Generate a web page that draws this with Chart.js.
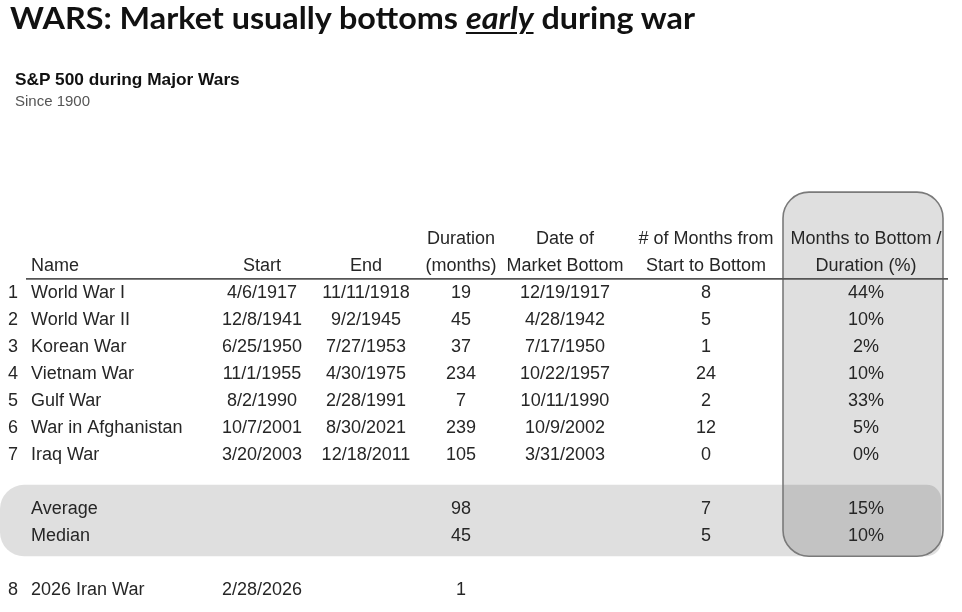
<!DOCTYPE html>
<html>
<head>
<meta charset="utf-8">
<script src="https://cdn.jsdelivr.net/npm/chart.js@4.4.1/dist/chart.umd.min.js"></script>
<style>
  html, body { margin: 0; padding: 0; background: #fff; }
  body { width: 962px; height: 612px; position: relative; overflow: hidden; }
  canvas { position: absolute; left: 0; top: 0; }
  .title { position: absolute; left: 10px; top: -3px; font-family: Lato, "Open Sans", sans-serif; font-weight: 700;
           font-size: 31px; line-height: 40px; color: #111; white-space: nowrap; transform-origin: 0 0; }
  .title u { text-decoration-thickness: 2px; text-underline-offset: 3px; }
  .sub { position: absolute; left: 15px; top: 69px; font-family: "Liberation Sans", Arial, sans-serif; font-weight: 700;
         font-size: 17.3px; line-height: 20px; color: #111; white-space: nowrap; }
  .since { position: absolute; left: 15px; top: 92px; font-family: "Liberation Sans", Arial, sans-serif;
           font-size: 15px; line-height: 18px; color: #555; white-space: nowrap; }
</style>
</head>
<body>
<canvas id="chart" width="962" height="612"></canvas>
<div class="title" id="title">WARS: Market usually bottoms <u><i>early</i></u> during war</div>
<div class="sub">S&amp;P 500 during Major Wars</div>
<div class="since">Since 1900</div>
<script>
// table values
const headerTop = ['', '', '', '', 'Duration', 'Date of', '# of Months from', 'Months to Bottom /']
const headerBottom = ['', 'Name', 'Start', 'End', '(months)', 'Market Bottom', 'Start to Bottom', 'Duration (%)']

const names = ['World War I', 'World War II', 'Korean War', 'Vietnam War', 'Gulf War', 'War in Afghanistan', 'Iraq War']
const starts = ['4/6/1917', '12/8/1941', '6/25/1950', '11/1/1955', '8/2/1990', '10/7/2001', '3/20/2003']
const ends = ['11/11/1918', '9/2/1945', '7/27/1953', '4/30/1975', '2/28/1991', '8/30/2021', '12/18/2011']
const durations = [19, 45, 37, 234, 7, 239, 105]
const bottoms = ['12/19/1917', '4/28/1942', '7/17/1950', '10/22/1957', '10/11/1990', '10/9/2002', '3/31/2003']
const monthsToBottom = [8, 5, 1, 24, 2, 12, 0]
const pctToBottom = [44, 10, 2, 10, 33, 5, 0]

const summaryLabels = ['Average', 'Median']
const summaryDuration = [98, 45]
const summaryMonths = [7, 5]
const summaryPct = [15, 10]

const currentName = '2026 Iran War'
const currentStart = '2/28/2026'
const currentDuration = 1

// layout: row slots and column anchors (px along the x scale)
const ROW_HEAD = 0, ROW_FIRST = 2, ROW_AVG = 10, ROW_CUR = 13
const colX = [13, 31, 262, 366, 461, 565, 706, 866]
const colAlign = ['center', 'left', 'center', 'center', 'center', 'center', 'center', 'center']

const pct = v => v + '%'

// one list of texts per column, with the row each sits in
function columnCells(c) {
  const cells = []
  if (headerTop[c]) cells.push([ROW_HEAD, headerTop[c]])
  if (headerBottom[c]) cells.push([ROW_HEAD + 1, headerBottom[c]])
  const body = [
    names.map((_, i) => String(i + 1)), names, starts, ends,
    durations, bottoms, monthsToBottom, pctToBottom.map(pct)
  ][c]
  body.forEach((v, i) => cells.push([ROW_FIRST + i, String(v)]))
  const summary = [null, summaryLabels, null, null, summaryDuration, null, summaryMonths, summaryPct.map(pct)][c]
  if (summary) summary.forEach((v, i) => cells.push([ROW_AVG + i, String(v)]))
  const current = [String(names.length + 1), currentName, currentStart, null, currentDuration, null, null, null][c]
  if (current !== null) cells.push([ROW_CUR, String(current)])
  return cells
}

const datasets = colX.map((x, c) => {
  const cells = columnCells(c)
  return {
    label: headerBottom[c] || 'No.',
    data: cells.map(([row]) => ({ x, y: row })),
    texts: cells.map(([, t]) => t),
    align: colAlign[c],
    pointRadius: 0,
    showLine: false
  }
})

function roundBox(ctx, x0, y0, x1, y1, r) {
  ctx.beginPath()
  ctx.roundRect(x0, y0, x1 - x0, y1 - y0, r)
}

const tablePlugin = {
  id: 'warTable',
  beforeDatasetsDraw(chart) {
    const { ctx, scales: { x, y } } = chart
    ctx.save()
    // shaded band behind average / median
    ctx.fillStyle = 'rgba(0,0,0,0.125)'
    roundBox(ctx, x.getPixelForValue(0), y.getPixelForValue(ROW_AVG - 0.85),
      x.getPixelForValue(941), y.getPixelForValue(ROW_AVG + 1.8), [24, 14, 14, 24])
    ctx.fill()
    // box round the last column
    roundBox(ctx, x.getPixelForValue(783), y.getPixelForValue(ROW_HEAD - 1.72),
      x.getPixelForValue(943), y.getPixelForValue(ROW_AVG + 1.8), 26)
    ctx.fill()
    ctx.strokeStyle = '#7a7a7a'
    ctx.lineWidth = 1.6
    ctx.stroke()
    // rule under the header
    ctx.beginPath()
    const ly = y.getPixelForValue(ROW_HEAD + 1.5)
    ctx.moveTo(x.getPixelForValue(26), ly)
    ctx.lineTo(x.getPixelForValue(948), ly)
    ctx.strokeStyle = '#555'
    ctx.lineWidth = 1.8
    ctx.stroke()
    ctx.restore()
  },
  afterDatasetsDraw(chart) {
    const { ctx } = chart
    ctx.save()
    ctx.font = '18px "Liberation Sans", Arial, sans-serif'
    ctx.fillStyle = '#262626'
    ctx.textBaseline = 'middle'
    chart.data.datasets.forEach((ds, i) => {
      ctx.textAlign = ds.align
      chart.getDatasetMeta(i).data.forEach((pt, j) => {
        ctx.fillText(ds.texts[j], pt.x, pt.y + 1)
      })
    })
    ctx.restore()
  }
}

function fitTitle() {
  const el = document.getElementById('title')
  const w = el.getBoundingClientRect().width
  el.style.transform = `scaleX(${685 / w})`
}

document.fonts.ready.then(() => {
  fitTitle()
  new Chart('chart', {
    type: 'scatter',
    data: { datasets },
    options: {
      responsive: false,
      animation: false,
      events: [],
      layout: { padding: { top: 225, bottom: 10, left: 0, right: 0 } },
      plugins: { legend: { display: false }, tooltip: { enabled: false } },
      scales: {
        x: { type: 'linear', display: false, min: 0, max: 962 },
        y: { type: 'linear', display: false, reverse: true, min: -0.5, max: 13.5 }
      }
    },
    plugins: [tablePlugin]
  })
})
</script>
</body>
</html>
